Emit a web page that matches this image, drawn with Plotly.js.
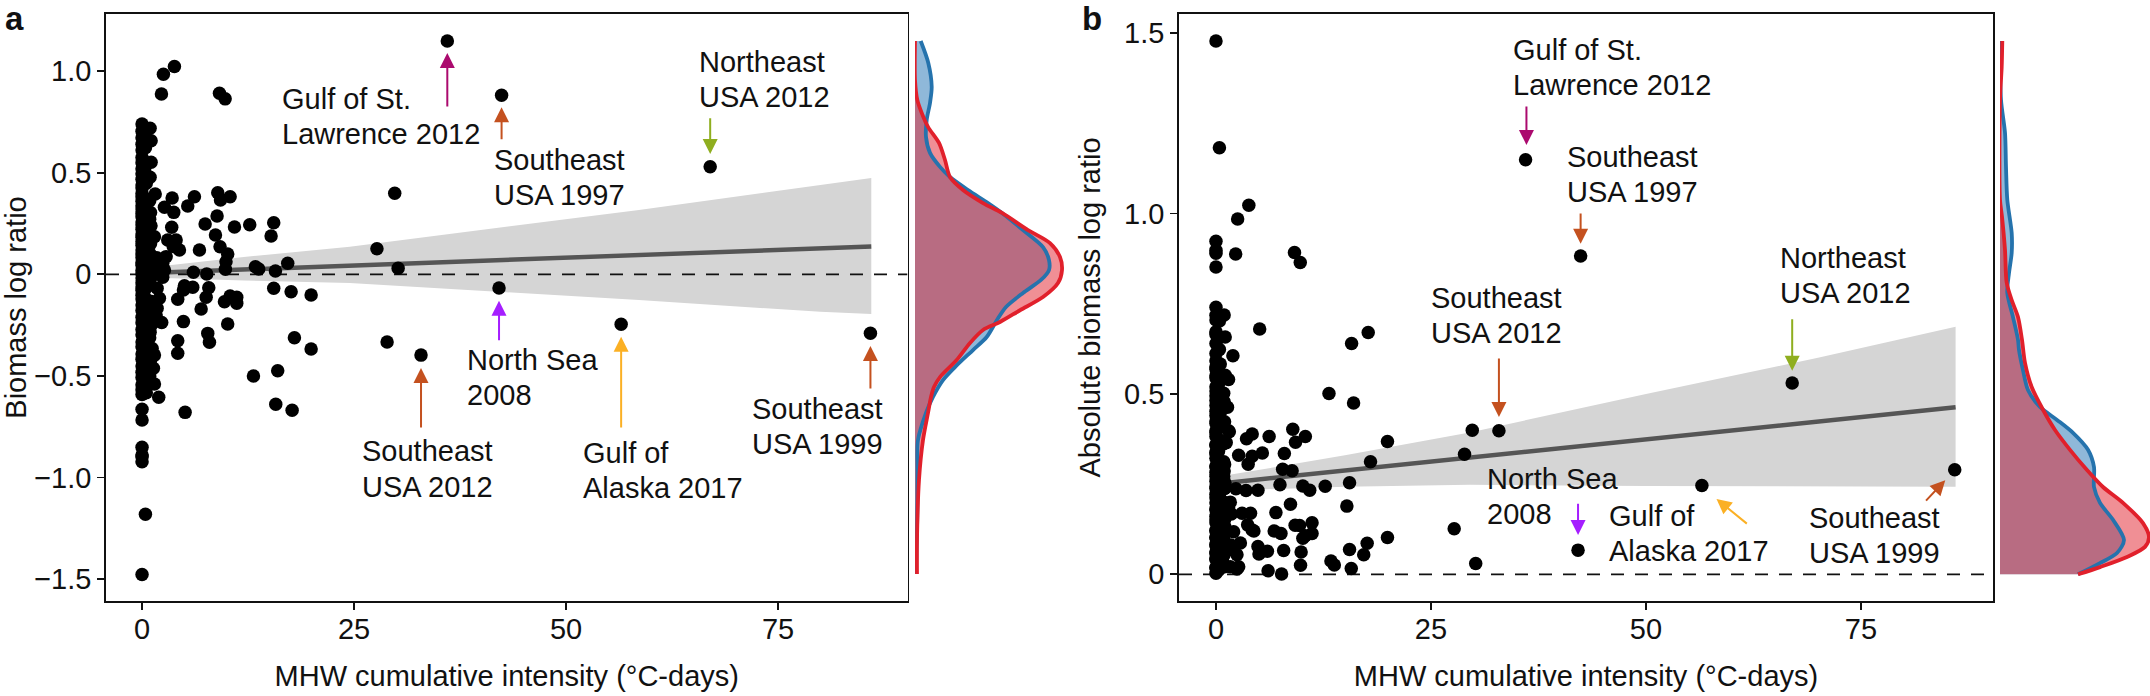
<!DOCTYPE html>
<html>
<head>
<meta charset="utf-8">
<script src="https://cdn.plot.ly/plotly-3.0.1.min.js"></script>
<style>html,body{margin:0;padding:0;background:#fff}</style>
</head>
<body>
<div id="plot" style="width:2150px;height:696px"></div>
<script>
// Points, same order in both panels
const intensity = [
  0,0,0,0,0,0,0,0,0,0,0,0,0,0,0,0,0,0,0,0,0,0,0,0,0,0,0,0,0,0,0,0,
  0,0,0,0,0,0,0,0,0,0,0,0,0,0,0,0,0,0,0,0,0,0,0,0,0,0,0,0,0,0,
  .4,.4,.3,.5,.4,.3,.5,.4,.3,.5,.4,.6,.3,.5,.4,.3,.5,.4,.6,.3,.5,.4,.3,.5,.4,
  .9,1,.9,1,.8,1,.9,1,.8,1,.9,1,.8,1.05,.9,1,.9,
  3.82,2.52,2.29,9.13,9.8,.95,1.07,1.07,.95,3.55,6.18,5.39,2.64,3.74,8.93,10.39,9.25,8.85,7.44,10.9,12.7,15.53,15.22,3.5,8.66,
  1.46,3.03,4.02,4.41,6.77,9.2,10.1,9.9,9.83,2.84,2.44,1.66,2.64,2.44,6.06,7.63,13.37,13.76,15.73,17.18,15.53,17.58,19.94,
  5,5.98,4.88,7.87,7.56,4.21,1.78,2.05,10.39,9.72,11.17,11.17,6.97,1.78,1.66,2.32,4.88,10.1,7.75,7.95,4.21,4.21,17.97,19.94,
  13.14,16,15.77,17.7,5.08,1.97,1.46,1.34,1.46,1.19,.95,3.68,1.55,1.05,1.74,
  36,42.4,29.8,27.7,30.2,42.1,56.5,28.9,32.9,85.9,67
];
const logRatio = [
  .74,.705,.672,.64,.612,.575,.55,.52,.495,.468,.44,.425,.398,.382,.36,.338,.322,.3,.283,.258,.243,.222,.198,.182,.161,.143,.12,.101,.083,.058,.044,.019,
  .003,-.018,-.041,-.062,-.079,-.103,-.122,-.151,-.178,-.212,-.238,-.272,-.298,-.334,-.357,-.392,-.418,-.452,-.482,-.508,-.544,-.568,-.592,-.665,-.718,-.852,-.89,-.898,-.923,-1.478,
  .702,.623,.512,.448,.372,.309,.268,.221,.172,.128,.091,.052,.011,-.032,-.071,-.112,-.168,-.223,-.281,-.342,-.409,-.472,-.528,-.583,-1.182,
  .362,.304,.271,.238,.202,.151,.103,.062,.033,-.021,-.052,-.133,-.192,-.253,-.312,-.423,-.502,
  1.023,.985,.888,.892,.864,.719,.658,.552,.478,.376,.382,.336,.33,.305,.402,.382,.366,.287,.248,.233,.244,.254,.189,.232,.194,
  .185,.169,.169,.12,.12,.136,.1,.062,.025,.087,.054,.021,.021,-.015,.01,.001,.037,.026,.016,.054,-.069,-.086,-.102,
  -.056,-.064,-.077,-.066,-.113,-.123,-.069,-.118,-.107,-.135,-.113,-.143,-.171,-.167,-.2,-.237,-.233,-.245,-.291,-.335,-.327,-.389,-.312,-.368,
  -.501,-.475,-.64,-.67,-.68,-.606,-.54,-.463,-.398,-.365,-.286,.137,.395,.239,.081,
  1.149,.882,.399,.126,.03,-.067,-.246,-.333,-.398,-.29,.53
];
const absLogRatio = [
  .74,.705,.672,.64,.612,.575,.55,.52,.495,.468,.44,.425,.398,.382,.36,.338,.322,.3,.283,.258,.243,.222,.198,.182,.161,.143,.12,.101,.083,.058,.044,.019,
  .003,.018,.041,.062,.079,.103,.122,.151,.178,.212,.238,.272,.298,.334,.357,.392,.418,.452,.482,.508,.544,.568,.592,.665,.718,.852,.89,.898,.923,1.478,
  .702,.623,.512,.448,.372,.309,.268,.221,.172,.128,.091,.052,.011,.032,.071,.112,.168,.223,.281,.342,.409,.472,.528,.583,1.182,
  .362,.304,.271,.238,.202,.151,.103,.062,.033,.021,.052,.133,.192,.253,.312,.423,.502,
  1.023,.985,.888,.892,.864,.719,.658,.552,.478,.376,.382,.336,.33,.305,.402,.382,.366,.287,.248,.233,.244,.254,.189,.232,.194,
  .185,.169,.169,.12,.12,.136,.1,.062,.025,.087,.054,.021,.021,.015,.01,.001,.037,.026,.016,.054,.069,.086,.102,
  .056,.064,.077,.066,.113,.123,.069,.118,.107,.135,.113,.143,.171,.167,.2,.237,.233,.245,.291,.335,.327,.389,.312,.368,
  .501,.475,.64,.67,.68,.606,.54,.463,.398,.365,.286,.137,.395,.239,.081,
  1.149,.882,.399,.126,.03,.067,.246,.333,.398,.29,.53
];

// Fit lines and confidence bands
const fitA_x = [0,86], fitA_y = [.005,.137];
const bandA_x = [0,3.6,12,24.5,41,58.6,80,86];
const bandA_up = [.03,.046,.085,.136,.225,.317,.44,.474];
const bandA_lo = [-.02,-.02,-.03,-.043,-.085,-.127,-.185,-.195];
const fitB_x = [1.4,86], fitB_y = [.254,.463];
const bandB_x = [1.4,15,29.5,50,70,86];
const bandB_up = [.275,.33,.393,.5,.6,.686];
const bandB_lo = [.232,.243,.248,.245,.243,.243];

// Side densities
const densA_blue_y = [1.149,1.041,.923,.844,.76,.676,.598,.529,.479,.415,.351,.302,.218,.134,.07,.021,-.028,-.092,-.161,-.225,-.309,-.373,-.457,-.521,-.604,-.683,-.816,-.964,-1.112,-1.26,-1.476];
const densA_blue = [.057,.133,.167,.15,.117,.11,.15,.25,.35,.53,.73,.87,1.08,1.28,1.34,1.34,1.26,1.08,.91,.82,.717,.58,.4,.28,.18,.11,.03,.025,.025,.02,.01];
const densA_red_y = [1.149,.957,.859,.795,.726,.647,.563,.479,.415,.351,.302,.218,.154,.085,.021,-.043,-.112,-.177,-.235,-.274,-.338,-.422,-.506,-.555,-.604,-.683,-.816,-1.013,-1.309,-1.476];
const densA_red = [0,0,.023,.067,.13,.24,.3,.35,.48,.68,.87,1.13,1.35,1.45,1.47,1.43,1.28,1.05,.85,.68,.55,.417,.25,.19,.16,.13,.08,.04,.02,.02];
const densB_blue_y = [1.478,1.315,1.224,1.129,1.038,.946,.891,.835,.78,.713,.65,.622,.566,.511,.464,.428,.392,.345,.297,.242,.198,.151,.095,.059,.031,0];
const densB_blue = [0,.01,.05,.06,.073,.117,.117,.09,.073,.13,.18,.19,.23,.28,.4,.57,.73,.88,.94,.94,1,1.13,1.24,1.17,1,.78];
const densB_red_y = [1.478,1.406,1.315,1.038,.991,.899,.808,.76,.713,.65,.586,.519,.456,.4,.345,.289,.242,.198,.142,.103,.076,.048,.02,0];
const densB_red = [.023,.017,0,0,.02,.05,.067,.117,.18,.22,.25,.317,.43,.55,.7,.87,1.03,1.23,1.43,1.49,1.45,1.27,1,.78];

// Labels and arrows: [first line, second line, left px, middle px]
const labelsA = [
  ['Gulf of St.','Lawrence 2012',283,116],['Southeast','USA 1997',495,177.5],['Northeast','USA 2012',700,80],
  ['North Sea','2008',468,377.5],['Southeast','USA 2012',362.5,469],['Gulf of','Alaska 2017',584,470.5],['Southeast','USA 1999',752.6,426]
];
const labelsB = [
  ['Gulf of St.','Lawrence 2012',1514,67.5],['Southeast','USA 1997',1568,174],['Northeast','USA 2012',1781,275],
  ['Southeast','USA 2012',1432,315.5],['North Sea','2008',1487.5,496],['Gulf of','Alaska 2017',1609.5,533],['Southeast','USA 1999',1810,535]
];
const arrowColors = {gulf:'#ab0a6e', se:'#c4511f', ne:'#8fae1f', ns:'#a51eff', ak:'#fbb024'};
// [colour, tail x, tail y, tip x, tip y]
const arrowsA = [
  ['gulf',36,.819,36,1.09],['se',42.4,.658,42.4,.823],['ne',67,.776,67,.593],['ns',42.1,-.332,42.1,-.13],
  ['ak',56.5,-.762,56.5,-.307],['se',32.9,-.762,32.9,-.462],['se',85.9,-.57,85.9,-.353]
];
const arrowsB = [
  ['gulf',36.1,1.301,36.1,1.19],['se',42.4,1.004,42.4,.916],['ne',67,.711,67,.564],['se',32.9,.602,32.9,.436],
  ['ns',42.1,.2,42.1,.109],['ak',61.9,.137,58.2,.209],['se',82.4,.2,84.8,.261]
];

const W = 2150, H = 696;
const FONT = '"Liberation Sans", Arial, sans-serif';
const INK = '#111';
const xRangeA = [-4.25,90.27], yRangeA = [-1.609,1.282];
const xRangeB = [-4.3,90.35], yRangeB = [-.074,1.553];
const dx = (l,r) => [l/W, r/W];
const yDom = [1-601/H, 1-14/H];

function hline(xr, xa, ya) {
  return {x:xr, y:[0,0], xaxis:xa, yaxis:ya, mode:'lines', line:{color:'#111',width:1.7,dash:'13px,11px'}, hoverinfo:'skip'};
}
function panel(xa, ya, bx, up, lo, fx, fy, xr, py) {
  return [
    {x:bx.concat(bx.slice().reverse()), y:up.concat(lo.slice().reverse()), xaxis:xa, yaxis:ya, mode:'lines', fill:'toself', fillcolor:'#d5d5d5', line:{width:0}, hoverinfo:'skip'},
    {x:fx, y:fy, xaxis:xa, yaxis:ya, mode:'lines', line:{color:'#555',width:4.5}},
    hline(xr, xa, ya),
    {x:intensity, y:py, xaxis:xa, yaxis:ya, mode:'markers', marker:{color:'#000',size:13.5}}
  ];
}
const SPLINE = {shape:'spline', smoothing:.8};
// fills go first so both strokes stay on top of them
function densities(bx, by, rx, ry, xa, ya) {
  return [
    {x:bx, y:by, xaxis:xa, yaxis:ya, mode:'lines', fill:'tozerox', fillcolor:'rgba(31,113,180,.5)', line:{width:0,...SPLINE}, hoverinfo:'skip'},
    {x:rx, y:ry, xaxis:xa, yaxis:ya, mode:'lines', fill:'tozerox', fillcolor:'rgba(226,32,44,.5)', line:{width:0,...SPLINE}, hoverinfo:'skip'},
    {x:bx, y:by, xaxis:xa, yaxis:ya, mode:'lines', line:{color:'#2573ad',width:3.8,...SPLINE}, hoverinfo:'skip'},
    {x:rx, y:ry, xaxis:xa, yaxis:ya, mode:'lines', line:{color:'#e1202b',width:3.8,...SPLINE}, hoverinfo:'skip'}
  ];
}

const traces = [
  ...panel('x','y',bandA_x,bandA_up,bandA_lo,fitA_x,fitA_y,xRangeA,logRatio),
  ...densities(densA_blue,densA_blue_y,densA_red,densA_red_y,'x2','y2'),
  ...panel('x3','y3',bandB_x,bandB_up,bandB_lo,fitB_x,fitB_y,xRangeB,absLogRatio),
  ...densities(densB_blue,densB_blue_y,densB_red,densB_red_y,'x4','y4')
];

function textNote(t, px, py, size, bold) {
  return {text:bold?'<b>'+t+'</b>':t, xref:'paper', yref:'paper', x:(px-3)/W, y:1-py/H, xanchor:'left', yanchor:'middle', align:'left', showarrow:false, font:{family:FONT,size:size,color:INK}};
}
function twoLines(l) {
  return [textNote(l[0],l[2],l[3]-17.5,29), textNote(l[1],l[2],l[3]+17.5,29)];
}
function arrowNote(a, xa, ya) {
  return {xref:xa, yref:ya, axref:xa, ayref:ya, x:a[3], y:a[4], ax:a[1], ay:a[2], text:'', showarrow:true, arrowhead:2, arrowsize:1.5, arrowwidth:2, arrowcolor:arrowColors[a[0]]};
}

const axisX = (dom, range, anchor) => ({domain:dom, range:range, anchor:anchor, tickvals:[0,25,50,75], ticks:'outside', ticklen:7, tickwidth:1.7, tickcolor:INK,
  ticklabelstandoff:-6, showline:true, linecolor:INK, linewidth:1.8, mirror:true, showgrid:false, zeroline:false, tickfont:{family:FONT,size:29,color:INK},
  title:{text:'MHW cumulative intensity (°C-days)', font:{family:FONT,size:29,color:INK}, standoff:22}});
const axisY = (range, anchor, vals, txt, title, standoff) => ({domain:yDom, range:range, anchor:anchor, tickvals:vals, ticktext:txt, ticks:'outside', ticklen:7, tickwidth:1.7, tickcolor:INK,
  showline:true, linecolor:INK, linewidth:1.8, mirror:true, showgrid:false, zeroline:false, tickfont:{family:FONT,size:29,color:INK},
  title:{text:title, font:{family:FONT,size:29,color:INK}, standoff:standoff}});
const hidden = (dom, range, anchor) => ({domain:dom, range:range, anchor:anchor, visible:false, fixedrange:true});

const layout = {
  width:W, height:H, margin:{l:0,r:0,t:0,b:0}, paper_bgcolor:'#fff', plot_bgcolor:'#fff', showlegend:false, hovermode:false,
  xaxis:axisX(dx(106,907.5),xRangeA,'y'),
  yaxis:axisY(yRangeA,'x',[-1.5,-1,-.5,0,.5,1],['−1.5','−1.0','−0.5','0','0.5','1.0'],'Biomass log ratio',10),
  xaxis2:hidden(dx(915,1075),[0,1.6],'y2'),
  yaxis2:hidden(yDom,yRangeA,'x2'),
  xaxis3:axisX(dx(1179,1993),xRangeB,'y3'),
  yaxis3:axisY(yRangeB,'x3',[0,.5,1,1.5],['0','0.5','1.0','1.5'],'Absolute biomass log ratio',15),
  xaxis4:hidden(dx(2000,2150),[0,1.5],'y4'),
  yaxis4:hidden(yDom,yRangeB,'x4'),
  annotations:[
    textNote('a',6,19,33,true), textNote('b',1083,19,33,true),
    ...labelsA.flatMap(twoLines),
    ...labelsB.flatMap(twoLines),
    ...arrowsA.map(a => arrowNote(a,'x','y')),
    ...arrowsB.map(a => arrowNote(a,'x3','y3'))
  ]
};

Plotly.newPlot('plot', traces, layout, {displayModeBar:false, staticPlot:true});
</script>
</body>
</html>
